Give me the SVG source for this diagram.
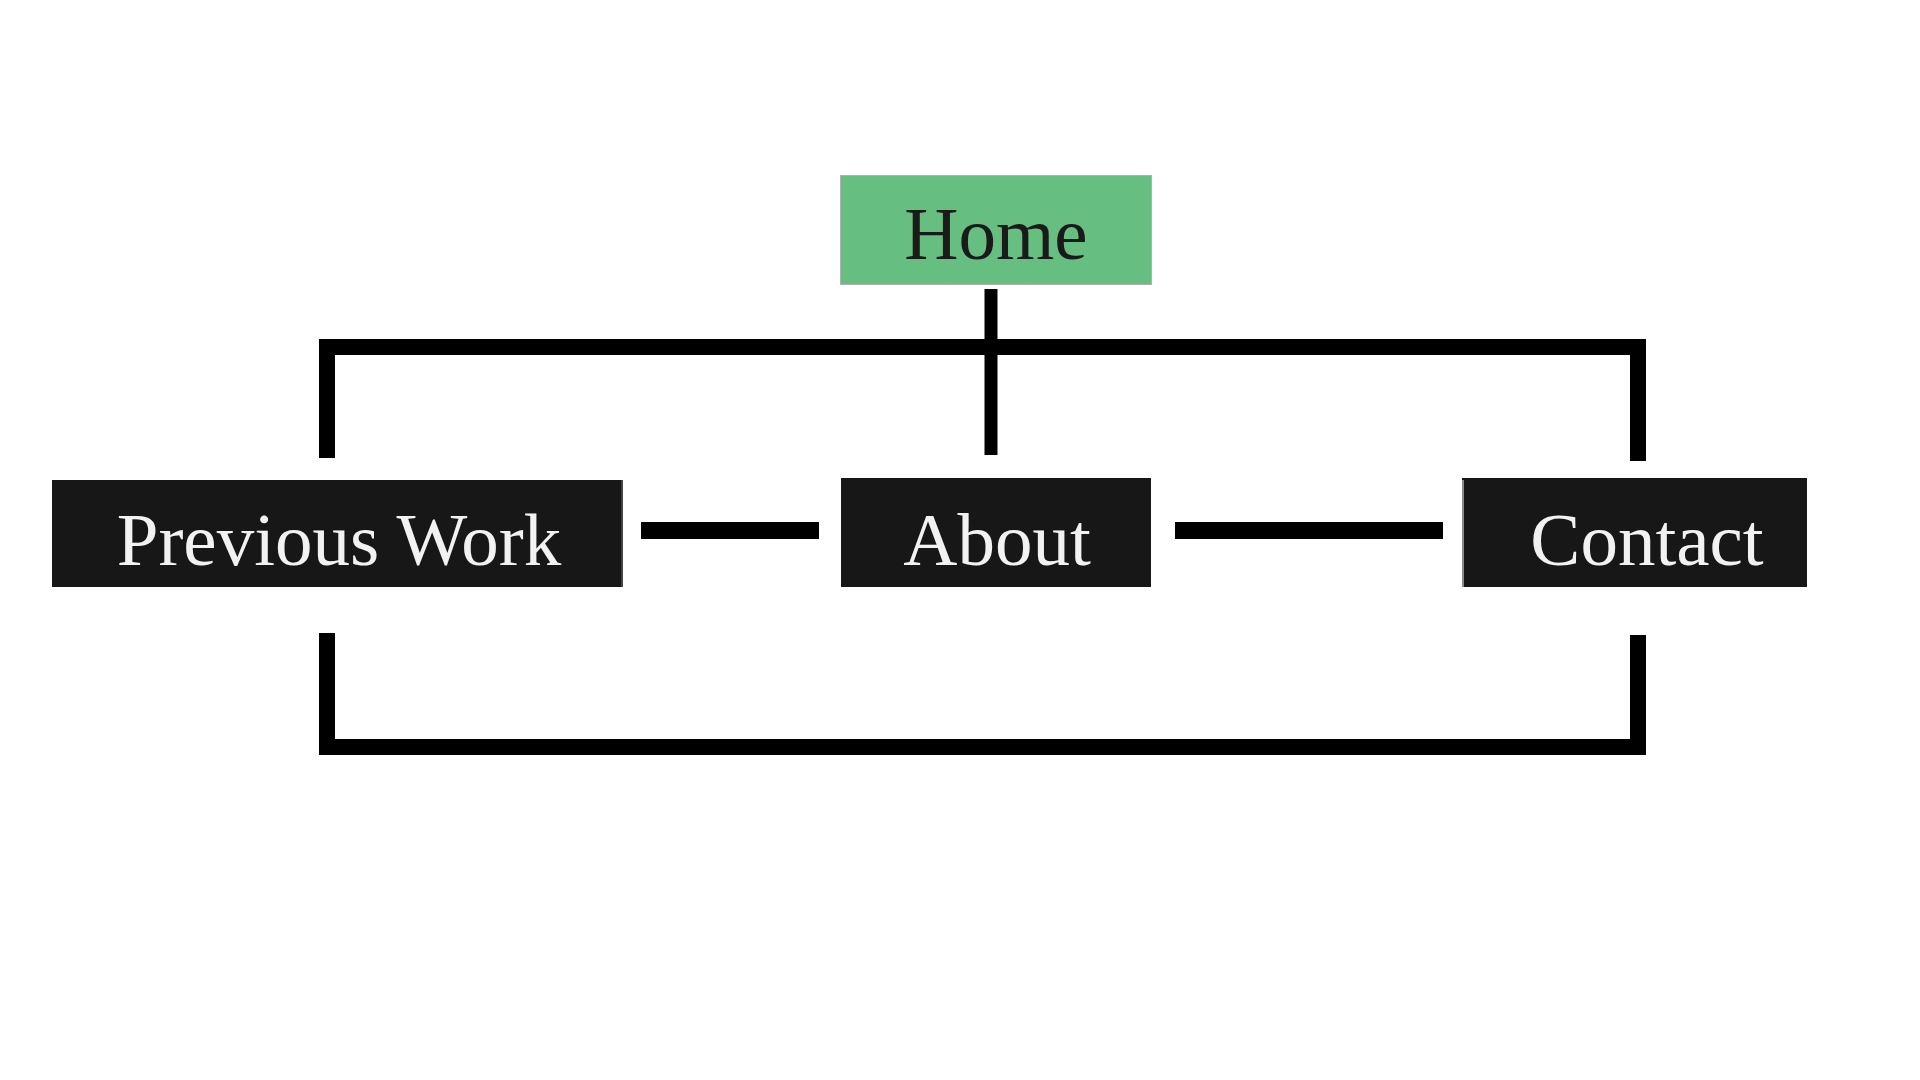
<svg xmlns="http://www.w3.org/2000/svg" width="1920" height="1080" viewBox="0 0 1920 1080">
<style>
.box{fill:#171717;}
.lbl{font-family:"Liberation Serif","Times New Roman",serif;font-size:75px;text-anchor:middle;}
.light{fill:#f2f2f2;}
.dark{fill:#1a1a1a;}
.wire{stroke:#000;stroke-width:16;fill:none;stroke-linecap:butt;stroke-linejoin:miter;}
</style>
<rect width="1920" height="1080" fill="#ffffff"/>
<g id="connectors">
<path class="wire" d="M327 458 V347 H1638 V461"/>
<line class="wire" x1="991" y1="289" x2="991" y2="455" style="stroke-width:13"/>
<path class="wire" d="M327 633 V747 H1638 V635"/>
<line class="wire" x1="641" y1="530.5" x2="819" y2="530.5" style="stroke-width:17"/>
<line class="wire" x1="1175" y1="530.5" x2="1443" y2="530.5" style="stroke-width:17"/>
</g>
<g id="home">
<rect x="840.5" y="175.5" width="311" height="109" fill="#66bf80" stroke="#b0b0b0" stroke-width="1"/>
<text class="lbl dark" x="996" y="259">Home</text>
</g>
<g id="previous-work">
<rect class="box" x="52" y="480" width="571" height="107"/>
<line x1="622" y1="480" x2="622" y2="587" stroke="#555" stroke-width="1.5"/>
<text class="lbl light" x="339" y="565">Previous Work</text>
</g>
<g id="about">
<rect class="box" x="841" y="478" width="310" height="109"/>
<text class="lbl light" x="997" y="565">About</text>
</g>
<g id="contact">
<rect class="box" x="1462" y="478" width="345" height="109"/>
<line x1="1463" y1="480" x2="1463" y2="587" stroke="#8a8a8a" stroke-width="2"/>
<text class="lbl light" x="1647" y="565">Contact</text>
</g>
</svg>
